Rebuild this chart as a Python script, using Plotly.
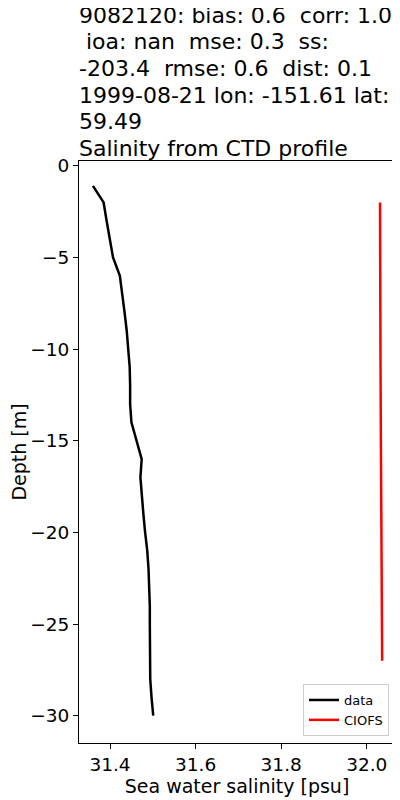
import plotly.graph_objects as go

data_depth = [-1.1, -2, -3, -4, -5, -6, -7, -8, -9, -10, -11, -12, -13, -14, -15,
              -16, -17, -18, -19, -20, -21, -22, -23, -24, -25, -26, -27, -28, -29, -30]
data_sal = [31.360, 31.385, 31.392, 31.400, 31.407, 31.423, 31.429, 31.434, 31.439, 31.443,
            31.446, 31.447, 31.447, 31.450, 31.462, 31.474, 31.471, 31.474, 31.478, 31.482,
            31.487, 31.490, 31.492, 31.493, 31.493, 31.493, 31.493, 31.494, 31.497, 31.501]

model_depth = [-2, -6, -10, -15, -20, -27]
model_sal = [32.031, 32.031, 32.032, 32.033, 32.034, 32.036]

title_lines = [
    "9082120: bias: 0.6  corr: 1.0",
    " ioa: nan  mse: 0.3  ss:",
    "-203.4  rmse: 0.6  dist: 0.1",
    "1999-08-21 lon: -151.61 lat:",
    "59.49",
    "Salinity from CTD profile",
]

FONT = "DejaVu Sans"
OFF = 8          # page body margin
TOP = 161 - OFF  # plot top lands at y=161

fig = go.Figure()
fig.add_trace(go.Scatter(x=data_sal, y=data_depth, mode="lines", name="data",
                         line=dict(color="black", width=2.5)))
fig.add_trace(go.Scatter(x=model_sal, y=model_depth, mode="lines", name="CIOFS",
                         line=dict(color="red", width=2.5)))

baselines = [22.7, 49.3, 76, 102.7, 129.3, 156]
annotations = []
for line, base in zip(title_lines, baselines):
    center = base - 7.7
    annotations.append(dict(
        text=line.replace("  ", "&nbsp;&nbsp;").replace(" ", "&nbsp;") if line.startswith(" ") else line.replace("  ", "&nbsp; "),
        xref="paper", yref="paper", x=0, y=1, xanchor="left", yanchor="middle",
        yshift=161 - center, xshift=-2, showarrow=False,
        font=dict(family=FONT, size=22, color="black")))

fig.update_layout(
    width=392, height=792,
    margin=dict(l=71, r=5, t=TOP, b=57),
    paper_bgcolor="white", plot_bgcolor="white",
    font=dict(family=FONT, color="black", size=18.5),
    annotations=annotations,
    showlegend=True,
    legend=dict(x=0.981, y=0.012, xanchor="right", yanchor="bottom",
                bordercolor="#cccccc", borderwidth=1, bgcolor="rgba(255,255,255,0.8)",
                font=dict(family=FONT, size=13)),
)
fig.update_xaxes(range=[31.3275, 32.066], tickvals=[31.4, 31.6, 31.8, 32.0],
                 ticktext=["31.4", "31.6", "31.8", "32.0"], automargin=False,
                 showgrid=False, zeroline=False, showline=True, linecolor="black",
                 linewidth=1, mirror=True, ticks="outside", ticklen=5, tickcolor="black",
                 tickfont=dict(size=18.5),
                 title=dict(text="Sea water salinity [psu]", font=dict(size=19), standoff=4))
fig.update_yaxes(range=[-31.49, 0.26], tickvals=[0, -5, -10, -15, -20, -25, -30],
                 automargin=False,
                 showgrid=False, zeroline=False, showline=True, linecolor="black",
                 linewidth=1, mirror=True, ticks="outside", ticklen=5, tickcolor="black",
                 tickfont=dict(size=18.5),
                 title=dict(text="Depth [m]", font=dict(size=19), standoff=6))

fig.write_html("out.html")
